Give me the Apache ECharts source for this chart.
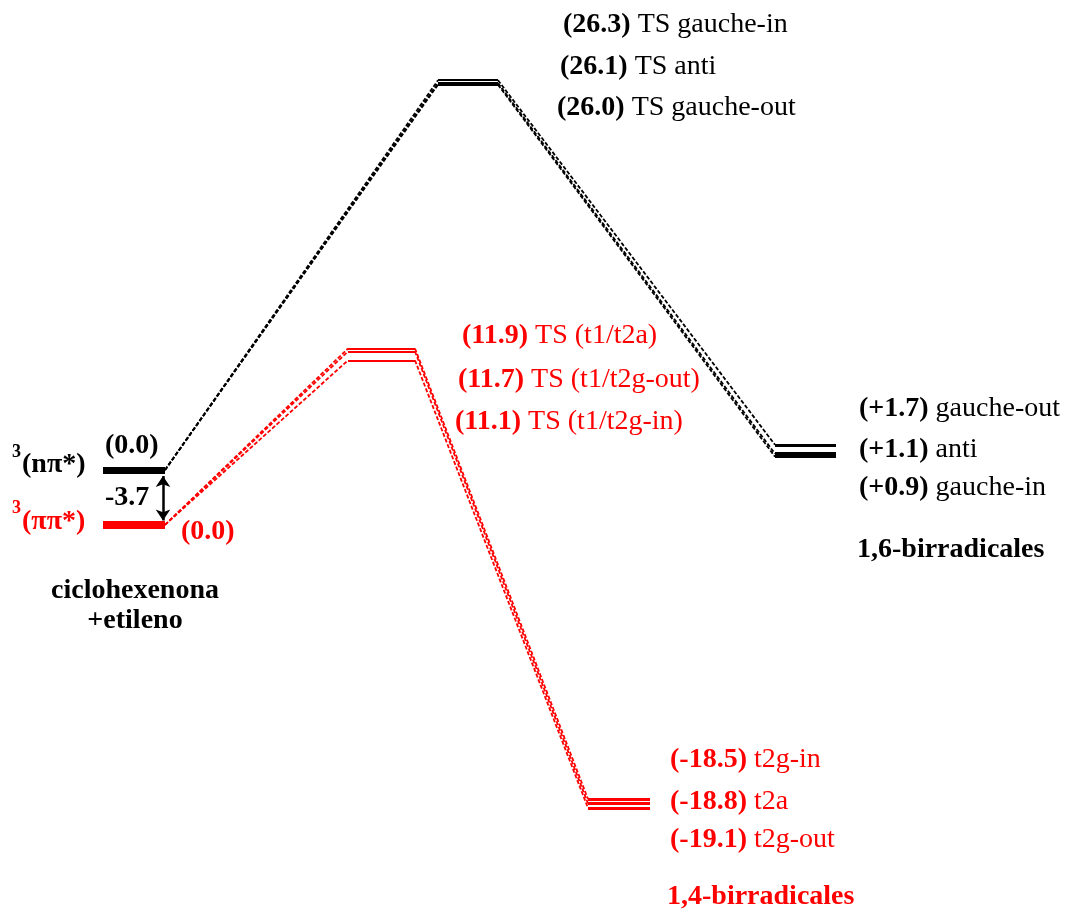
<!DOCTYPE html>
<html>
<head>
<meta charset="utf-8">
<script src="https://cdn.jsdelivr.net/npm/echarts@6/dist/echarts.min.js"></script>
<style>
  html, body { margin: 0; padding: 0; background: #fff; }
  #main { width: 1066px; height: 910px; }
</style>
</head>
<body>
<div id="main"></div>
<script>
// energias relativas (kcal/mol)
var gapPiPi = -3.7;   // 3(pipi*) respecto a 3(npi*)
var tsBlackE = [26.3, 26.1, 26.0];
var tsBlackNames = ['TS gauche-in', 'TS anti', 'TS gauche-out'];
var birBlackE = [1.7, 1.1, 0.9];
var birBlackNames = ['gauche-out', 'anti', 'gauche-in'];
var tsRedE = [11.9, 11.7, 11.1];
var tsRedNames = ['TS (t1/t2a)', 'TS (t1/t2g-out)', 'TS (t1/t2g-in)'];
var birRedE = [-18.5, -18.8, -19.1];
var birRedNames = ['t2g-in', 't2a', 't2g-out'];

var RED = '#ff0000', BLK = '#000000';
var FONT = '"Liberation Serif", "Times New Roman", serif';
var FS = 28;

// columnas de cada nivel (eje x en px)
var col = {
  react: [103, 165],
  tsB: [438, 498], birB: [775, 836],
  tsR: [348, 415], birR: [588, 650]
};

function red(e) { return gapPiPi + e; }

var levels = [];
var links = [];

function level(c, y, color, w) {
  levels.push({ coords: [[c[0], y], [c[1], y]], lineStyle: { color: color, width: w } });
}
function link(x1, y1, x2, y2, color) {
  links.push({ coords: [[x1, y1], [x2, y2]], lineStyle: { color: color } });
}

// reactivos
level(col.react, 0, BLK, 7);
level(col.react, gapPiPi, RED, 8);

// rama negra
tsBlackE.forEach(function (e, i) {
  level(col.tsB, e, BLK, 2);
  link(col.react[1], 0, col.tsB[0], e, BLK);
  link(col.tsB[1], e, col.birB[0], birBlackE[i], BLK);
});
birBlackE.forEach(function (e) { level(col.birB, e, BLK, 3); });

// rama roja
tsRedE.forEach(function (e, i) {
  level(col.tsR, red(e), RED, 2);
  link(col.react[1], gapPiPi, col.tsR[0], red(e), RED);
  link(col.tsR[1], red(e), col.birR[0], red(birRedE[i]), RED);
});
birRedE.forEach(function (e) { level(col.birR, red(e), RED, 3); });

// etiquetas
var graphics = [];
function fmt(v, plus) {
  return '(' + (plus && v >= 0 ? '+' : '') + v.toFixed(1) + ')';
}
function label(x, y, boldTxt, normTxt, color, size, align) {
  size = size || FS;
  graphics.push({
    type: 'text', x: x, y: y, z: 10,
    style: {
      text: '{b|' + boldTxt + '}' + (normTxt ? '{n|' + normTxt + '}' : ''),
      align: align || 'left', verticalAlign: 'middle',
      rich: {
        b: { fontFamily: FONT, fontSize: size, fontWeight: 'bold', fill: color },
        n: { fontFamily: FONT, fontSize: size, fill: color }
      }
    }
  });
}

var tsBX = [563, 560, 557], tsBY = [25, 67, 108];
tsBlackE.forEach(function (e, i) { label(tsBX[i], tsBY[i], fmt(e), ' ' + tsBlackNames[i], BLK); });

var tsRX = [462, 458, 455], tsRY = [336, 380, 422];
tsRedE.forEach(function (e, i) { label(tsRX[i], tsRY[i], fmt(e), ' ' + tsRedNames[i], RED); });

var birBY = [409, 450, 488];
birBlackE.forEach(function (e, i) { label(859, birBY[i], fmt(e, true), ' ' + birBlackNames[i], BLK); });
label(857, 550, '1,6-birradicales', '', BLK);

var birRY = [760, 802, 840];
birRedE.forEach(function (e, i) { label(670, birRY[i], fmt(e), ' ' + birRedNames[i], RED); });
label(667, 897, '1,4-birradicales', '', RED);

label(105, 446, fmt(0), '', BLK);
label(181, 532, fmt(0), '', RED);
label(105, 498, gapPiPi.toFixed(1), '', BLK);
label(12, 452, '3', '', BLK, 18);
label(22, 465, '(n\u03c0*)', '', BLK);
label(12, 508, '3', '', RED, 18);
label(22, 522, '(\u03c0\u03c0*)', '', RED);
label(135, 591, 'ciclohexenona', '', BLK, FS, 'center');
label(135, 621, '+etileno', '', BLK, FS, 'center');

var chart = echarts.init(document.getElementById('main'), null, { renderer: 'canvas' });
chart.setOption({
  animation: false,
  backgroundColor: '#fff',
  grid: { left: 0, right: 0, top: 25.4, bottom: 25 },
  xAxis: { type: 'value', min: 0, max: 1066, show: false },
  yAxis: { type: 'value', min: -28, max: 30, show: false },
  graphic: graphics,
  series: [
    {
      type: 'lines', coordinateSystem: 'cartesian2d', z: 2,
      lineStyle: { type: [4, 2], width: 1.8, opacity: 1 },
      data: links
    },
    {
      type: 'lines', coordinateSystem: 'cartesian2d', z: 3,
      lineStyle: { opacity: 1 },
      data: levels
    },
    {
      type: 'lines', coordinateSystem: 'cartesian2d', z: 4,
      symbol: ['arrow', 'arrow'], symbolSize: 11,
      lineStyle: { color: BLK, width: 2.5, opacity: 1 },
      data: [{ coords: [[163, -0.4], [163, gapPiPi + 0.3]] }]
    }
  ]
});
</script>
</body>
</html>
